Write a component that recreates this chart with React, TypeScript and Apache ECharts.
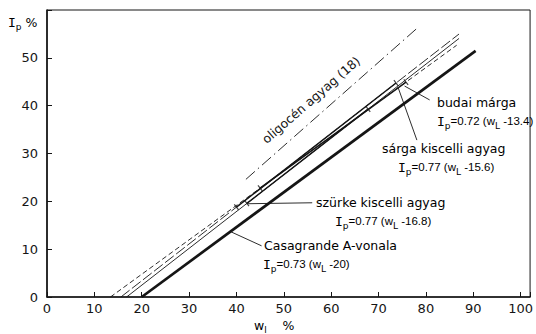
import React, { useEffect, useRef } from "react";
import * as echarts from "echarts";

// Plasticity lines: Ip = slope * (wL - offset)
const soilNames = ["budai márga", "sárga kiscelli agyag", "szürke kiscelli agyag", "Casagrande A-vonala"];
const slopes = [0.72, 0.77, 0.77, 0.73];
const offsets = [13.4, 15.6, 16.8, 20];
const lineEnds = [86.5, 87, 87, 90.5];
// measured ranges of liquid limit (drawn solid, with end marks)
const rangeFrom = [45, 40, 42.2];
const rangeTo = [75.8, 73.7, 67.8];

// oligocén agyag (18) dash-dot line end points [wL, Ip]
const oligoStart = [42, 24.6];
const oligoEnd = [78.5, 56.5];

const xTicks = [0, 10, 20, 30, 40, 50, 60, 70, 80, 90, 100];
const yTicks = [0, 10, 20, 30, 40, 50];

// leader lines [from, to] in [wL, Ip]
const leaders = [
  [[80.8, 41.2], [75.5, 44.1]],
  [[78.1, 32.8], [74.1, 43.9]],
  [[56.0, 19.7], [42.4, 19.5]],
  [[45.3, 10.7], [38.9, 13.6]],
];

const FONT = "DejaVu Sans";
const EQ_FONT = "Liberation Sans";
const INK = "#151515";

const ip = (i: number, w: number) => +(slopes[i] * (w - offsets[i])).toFixed(3);

function eqText(i: number) {
  return `{i|I}{s|p}{e|=${slopes[i].toFixed(2)} (w}{s|L}{e| -${offsets[i]})}`;
}

const rich = {
  t: { fontSize: 12.5, fontFamily: FONT, color: INK, lineHeight: 18 },
  e: { fontSize: 11.5, fontFamily: EQ_FONT, color: INK, lineHeight: 18 },
  i: { fontSize: 13, fontFamily: "DejaVu Sans Mono", color: INK, lineHeight: 18 },
  s: { fontSize: 9, fontFamily: FONT, color: INK, lineHeight: 9, verticalAlign: "bottom" as const },
};

export default function App() {
  const ref = useRef<HTMLDivElement>(null);

  useEffect(() => {
    if (!ref.current) return;
    const chart = echarts.init(ref.current, undefined, { renderer: "svg" });

    const series: any[] = [];
    const dashes: any[] = [[5, 3], [11, 3], "solid", "solid"];
    soilNames.forEach((name, i) => {
      const isA = i === 3;
      series.push({
        type: "line",
        name,
        data: [
          [offsets[i], 0],
          [lineEnds[i], ip(i, lineEnds[i])],
        ],
        symbol: "none",
        lineStyle: { color: INK, width: isA ? 2.7 : 0.9, type: dashes[i] },
        z: isA ? 5 : 3,
      });
      if (!isA) {
        series.push({
          type: "line",
          data: [
            [rangeFrom[i], ip(i, rangeFrom[i])],
            [rangeTo[i], ip(i, rangeTo[i])],
          ],
          symbol: "none",
          lineStyle: { color: INK, width: 1.5 },
          z: 4,
        });
        series.push({
          type: "scatter",
          data: [
            [rangeFrom[i], ip(i, rangeFrom[i])],
            [rangeTo[i], ip(i, rangeTo[i])],
          ],
          symbol: "rect",
          symbolSize: [1.2, 7],
          symbolRotate: 37.7,
          itemStyle: { color: INK },
          z: 4,
        });
      }
    });

    series.push({
      type: "line",
      data: [oligoStart, oligoEnd],
      symbol: "none",
      lineStyle: { color: INK, width: 0.9, type: [12, 4, 1.5, 4] },
    });

    leaders.forEach((seg) => {
      series.push({
        type: "line",
        data: seg,
        symbol: "none",
        lineStyle: { color: INK, width: 0.9 },
      });
    });

    const texts: any[] = [
      { x: 437, y: 102, text: soilNames[0] },
      { x: 437, y: 121, text: eqText(0) },
      { x: 382, y: 148, text: soilNames[1] },
      { x: 398, y: 167, text: eqText(1) },
      { x: 316, y: 202, text: soilNames[2] },
      { x: 335, y: 221, text: eqText(2) },
      { x: 264, y: 245, text: soilNames[3] },
      { x: 263, y: 264, text: eqText(3) },
    ].map((t) => ({
      type: "text",
      x: t.x,
      y: t.y,
      style: {
        text: t.text.startsWith("{") ? t.text : `{t|${t.text}}`,
        rich,
        verticalAlign: "middle",
        align: "left",
      },
    }));

    texts.push({
      type: "text",
      x: 311,
      y: 100,
      rotation: (41 * Math.PI) / 180,
      originX: 0,
      originY: 0,
      style: {
        text: "oligocén agyag (18)",
        font: `12.5px ${FONT}`,
        fill: INK,
        align: "center",
        verticalAlign: "middle",
      },
    });
    texts.push({
      type: "text",
      x: 8,
      y: 22,
      style: { text: "{i|I}{s|p}{t| %}", rich, verticalAlign: "middle" },
    });
    texts.push({
      type: "text",
      x: 254,
      y: 325,
      style: { text: "{t|w}{s|l}{t|    %}", rich, verticalAlign: "middle" },
    });

    chart.setOption({
      animation: false,
      grid: {
        left: 47,
        right: 1,
        top: 10,
        bottom: 37,
        show: true,
        borderColor: INK,
        borderWidth: 1,
      },
      xAxis: {
        type: "value",
        min: 0,
        max: 102,
        interval: 10,
        splitLine: { show: false },
        axisLine: { onZero: false, lineStyle: { color: INK, width: 1.6 } },
        axisTick: { inside: true, length: 5, lineStyle: { color: INK } },
        axisLabel: {
          color: INK,
          fontSize: 13,
          fontFamily: FONT,
          margin: 5,
          formatter: (v: number) => (xTicks.includes(v) ? String(v) : ""),
        },
      },
      yAxis: {
        type: "value",
        min: 0,
        max: 60,
        interval: 10,
        splitLine: { show: false },
        axisLine: { onZero: false, lineStyle: { color: INK, width: 1.6 } },
        axisTick: { inside: true, length: 5, lineStyle: { color: INK } },
        axisLabel: {
          color: INK,
          fontSize: 13,
          fontFamily: FONT,
          margin: 9,
          formatter: (v: number) => (yTicks.includes(v) ? String(v) : ""),
        },
      },
      graphic: texts,
      series,
    });

    return () => chart.dispose();
  }, []);

  return (
    <div
      ref={ref}
      style={{ position: "fixed", left: 0, top: 0, width: 536, height: 334, background: "#fff" }}
    />
  );
}
